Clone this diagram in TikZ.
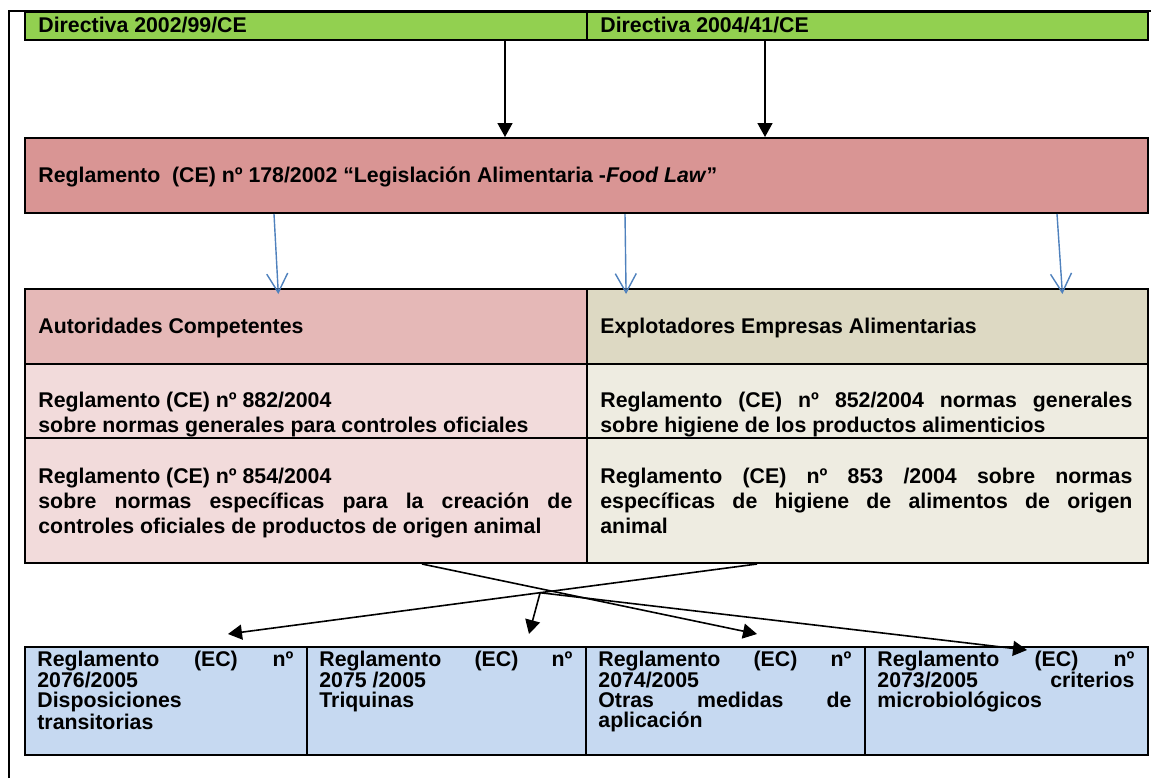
\documentclass[tikz,border=0pt]{standalone}
\usepackage{fontspec}
\setmainfont{Liberation Sans}
\usetikzlibrary{arrows.meta}
\hyphenpenalty=10000
\lineskiplimit=-5pt
\definecolor{dirgreen}{HTML}{92D050}
\definecolor{lawred}{HTML}{D99594}
\definecolor{acheadred}{HTML}{E5B8B7}
\definecolor{acbodyred}{HTML}{F2DBDB}
\definecolor{eaheadtan}{HTML}{DDD9C3}
\definecolor{eabodytan}{HTML}{EEECE1}
\definecolor{regblue}{HTML}{C6D9F1}
\definecolor{arrowblue}{HTML}{4F81BD}
\tikzset{
cell/.style = {draw, line width = 1pt, inner sep = 0pt, anchor = north west},
celltext/.style = {inner sep = 0pt, anchor = base west, font = \bfseries\fontsize{10.65}{12.5}\selectfont},
bodytext/.style = {celltext, align = justify},
boxtext/.style = {celltext, align = justify, font = \bfseries\fontsize{10.65}{9.9}\selectfont},
blackarrow/.style = {line width = 0.8pt, -{Triangle[length = 7pt, width = 7.5pt]}},
bluearrow/.style = {line width = 0.7pt, color = arrowblue, -{Straight Barb[length = 9.5pt, width = 10.5pt]}, shorten > = -3pt}}

\begin{document}
\begin{tikzpicture}[x=0.5pt,y=-0.5pt]
%
\def\pxu{0.5pt} % one pixel of the page
\useasboundingbox (0,0) rectangle (1151,778);
%
% page frame
\draw[line width = 1.3pt](9,778)--(9,11)--(1151,11);
%
%----------------------------------------------------------------------------------
% directives and food law
%
\node[cell, fill = dirgreen, minimum width = 562*\pxu, minimum height = 28*\pxu] (dir99) at (24,11) {};
\node[cell, fill = dirgreen, minimum width = 561*\pxu, minimum height = 28*\pxu] (dir41) at (586,11) {};
\node[celltext] (t99) at (38,32) {Directiva 2002/99/CE};
\node[celltext] (t41) at (600,32) {Directiva 2004/41/CE};
%
\node[cell, fill = lawred, minimum width = 1123*\pxu, minimum height = 75*\pxu] (foodlaw) at (24,137) {};
\node[celltext] (tlaw) at (38,182) {Reglamento\ \ (CE) nº 178/2002 “Legislación Alimentaria -\textit{Food Law}”};
%
\draw[blackarrow](dir99.south -| 505,0)--(foodlaw.north -| 505,0);
\draw[blackarrow](dir41.south -| 765,0)--(foodlaw.north -| 765,0);
%----------------------------------------------------------------------------------
%
%----------------------------------------------------------------------------------
% table of authorities and food business operators
%
\node[cell, fill = acheadred, minimum width = 562*\pxu, minimum height = 75*\pxu] (autor) at (24,288) {};
\node[cell, fill = eaheadtan, minimum width = 561*\pxu, minimum height = 75*\pxu] (explot) at (586,288) {};
\node[cell, fill = acbodyred, minimum width = 562*\pxu, minimum height = 74*\pxu] (r882) at (24,363) {};
\node[cell, fill = eabodytan, minimum width = 561*\pxu, minimum height = 74*\pxu] (r852) at (586,363) {};
\node[cell, fill = acbodyred, minimum width = 562*\pxu, minimum height = 125*\pxu] (r854) at (24,437) {};
\node[cell, fill = eabodytan, minimum width = 561*\pxu, minimum height = 125*\pxu] (r853) at (586,437) {};
%
\node[celltext] (tautor) at (38,333) {Autoridades Competentes};
\node[celltext] (texplot) at (600,333) {Explotadores Empresas Alimentarias};
\node[bodytext, text width = 534*\pxu] (t882) at (38,407) {Reglamento (CE) nº 882/2004\\sobre normas generales para controles oficiales};
\node[bodytext, text width = 532*\pxu] (t852) at (600,407) {Reglamento (CE) nº 852/2004 normas generales\linebreak sobre higiene de los productos alimenticios};
\node[bodytext, text width = 534*\pxu] (t854) at (38,483) {Reglamento (CE) nº 854/2004\\sobre normas específicas para la creación de\linebreak controles oficiales de productos de origen animal};
\node[bodytext, text width = 532*\pxu] (t853) at (600,483) {Reglamento (CE) nº 853 /2004 sobre normas\linebreak específicas de higiene de alimentos de origen\linebreak animal};
%
\draw[bluearrow](foodlaw.south -| 274,0)--(autor.north -| 278,0);
\draw[bluearrow](foodlaw.south -| 625,0)--(explot.north -| 626,0);
\draw[bluearrow](foodlaw.south -| 1057,0)--(explot.north -| 1062,0);
%----------------------------------------------------------------------------------
%
%----------------------------------------------------------------------------------
% implementing regulations
%
\node[cell, fill = regblue, minimum width = 282*\pxu, minimum height = 108*\pxu] (r2076) at (24,646) {};
\node[cell, fill = regblue, minimum width = 279*\pxu, minimum height = 108*\pxu] (r2075) at (306,646) {};
\node[cell, fill = regblue, minimum width = 279*\pxu, minimum height = 108*\pxu] (r2074) at (585,646) {};
\node[cell, fill = regblue, minimum width = 283*\pxu, minimum height = 108*\pxu] (r2073) at (864,646) {};
%
\node[boxtext, text width = 256*\pxu] (t2076) at (37,666) {Reglamento (EC) nº\linebreak 2076/2005\\Disposiciones\\transitorias};
\node[boxtext, text width = 253*\pxu] (t2075) at (319,666) {Reglamento (EC) nº\linebreak 2075 /2005\\Triquinas};
\node[boxtext, text width = 253*\pxu] (t2074) at (598,666) {Reglamento (EC) nº\linebreak 2074/2005\\Otras medidas de\linebreak aplicación};
\node[boxtext, text width = 257*\pxu] (t2073) at (877,666) {Reglamento (EC) nº\linebreak 2073/2005 criterios\linebreak microbiológicos};
%
% crossing arrows
\coordinate (tipA) at (228,634);
\coordinate (tipB) at (757,634);
\coordinate (tipC) at (529,634);
\draw[blackarrow](r853.south -| 757,0)--(tipA) coordinate[pos=0.41] (cross);
\draw[blackarrow](r854.south -| 422,0)--(tipB);
\draw[blackarrow](cross)--(tipC);
\draw[blackarrow](cross)--([yshift=-2pt]r2073.north -| 1027,0);
%----------------------------------------------------------------------------------
%
\end{tikzpicture}
\end{document}
